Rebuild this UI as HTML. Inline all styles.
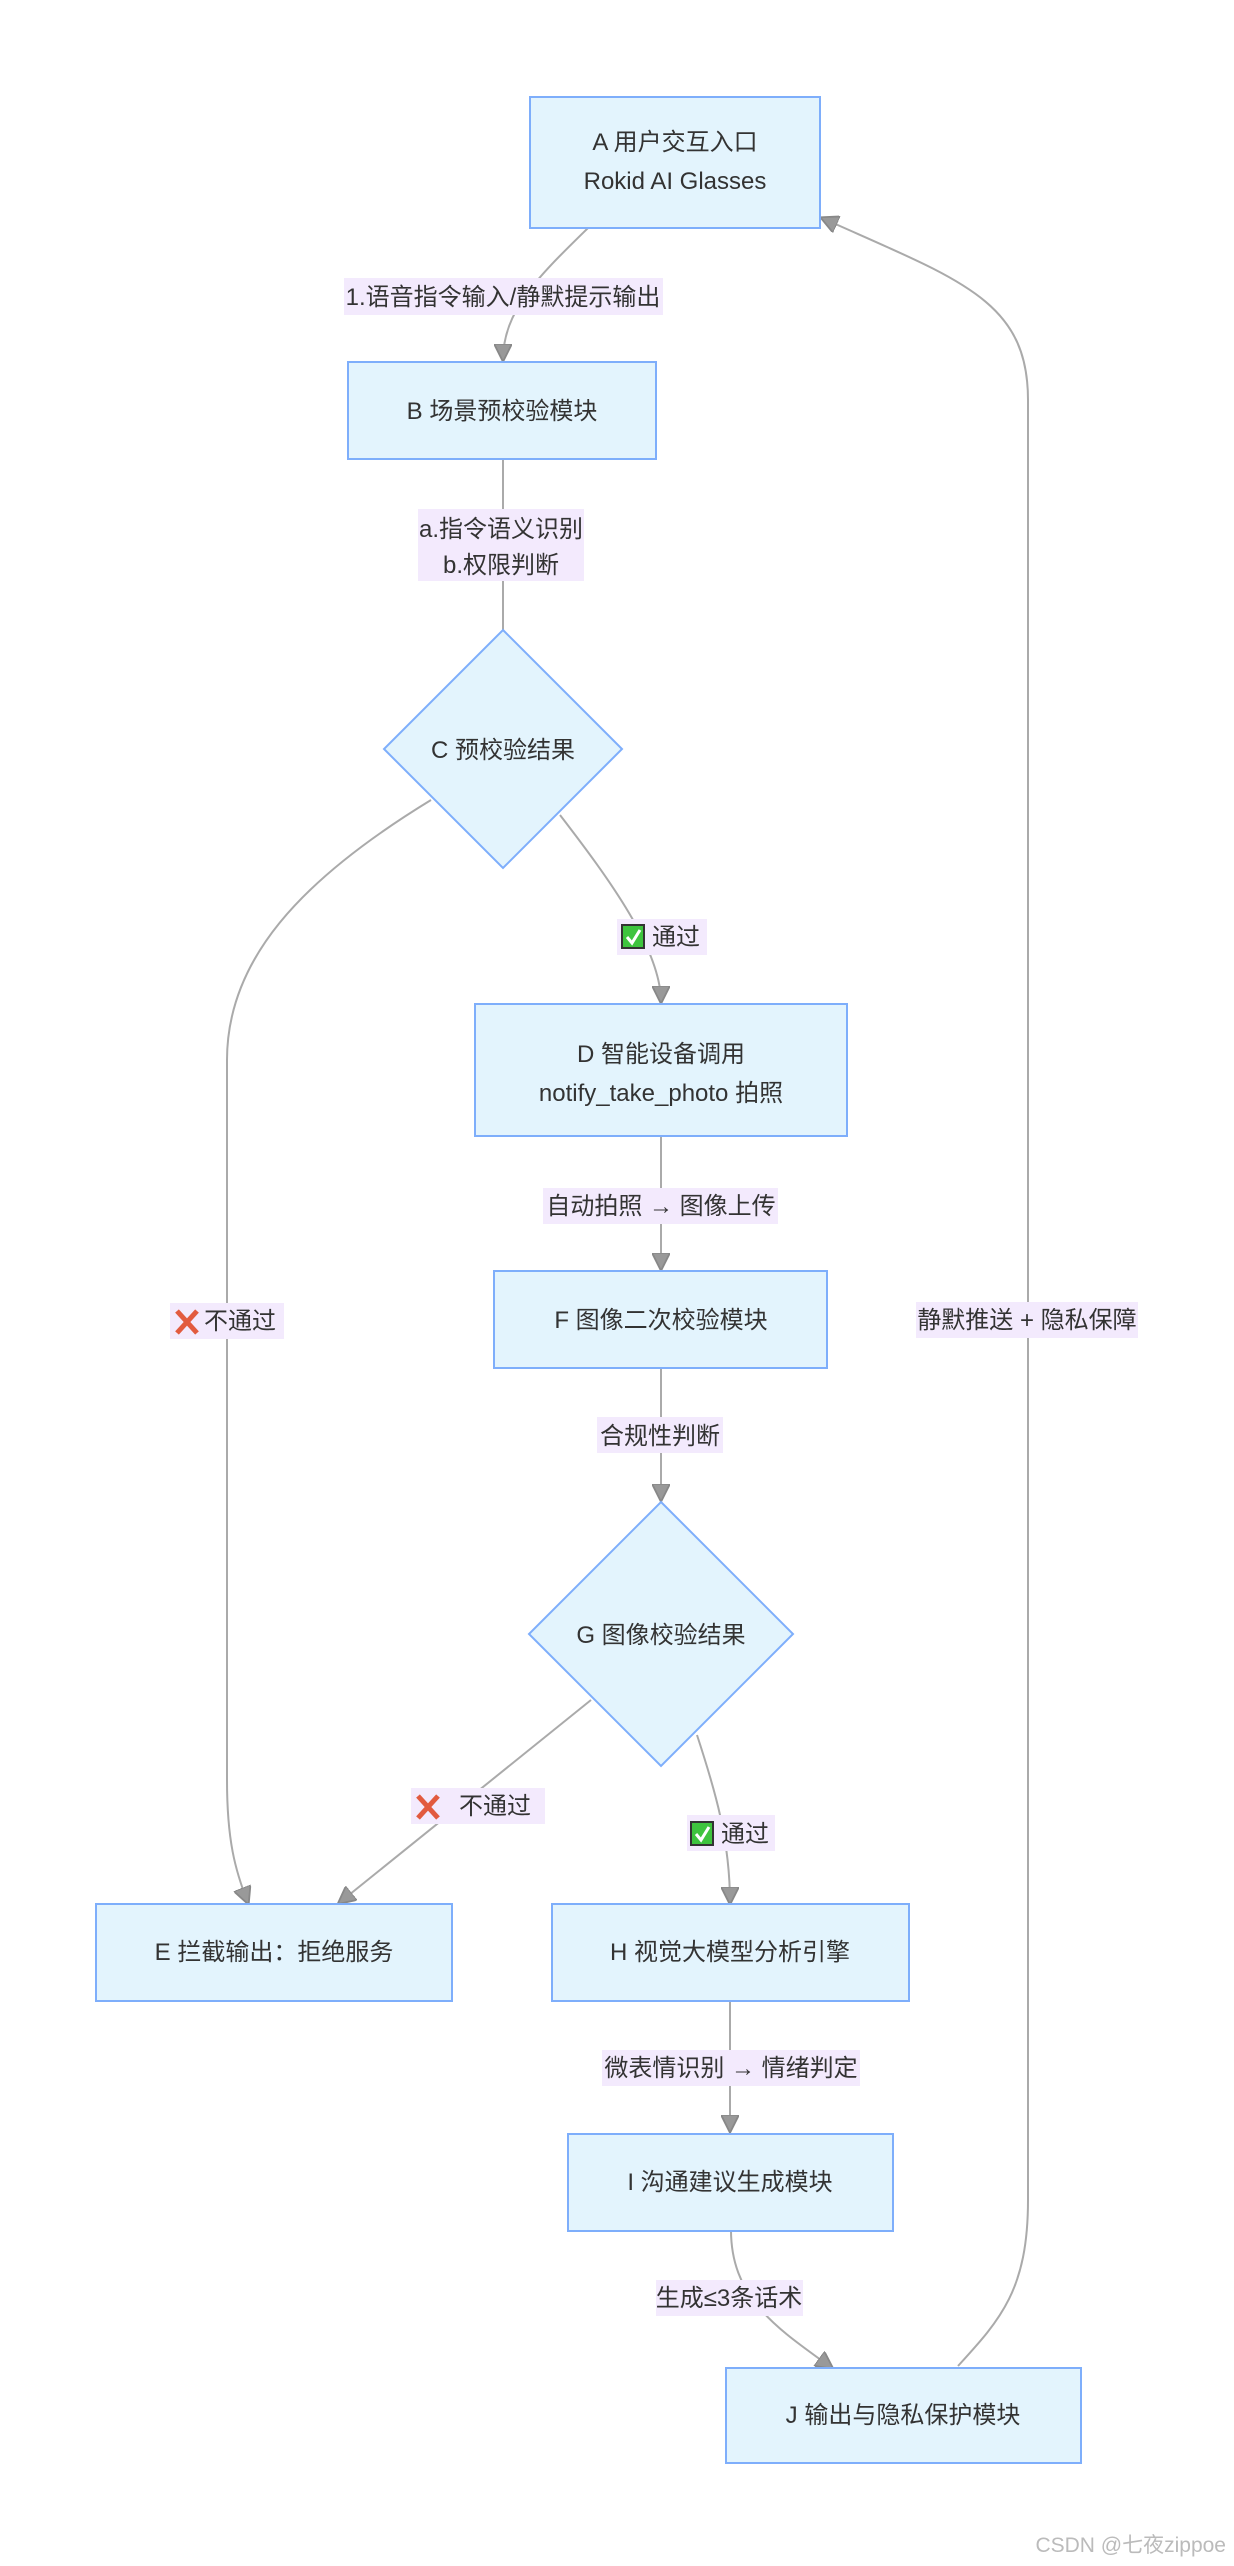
<!DOCTYPE html>
<html><head><meta charset="utf-8"><style>
body{margin:0;background:#fff;}
svg text{font-family:"Liberation Sans","Noto Sans CJK SC",sans-serif;font-size:24px;fill:#333;}
</style></head><body>
<svg width="1234" height="2561" viewBox="0 0 1234 2561" xmlns="http://www.w3.org/2000/svg">
<defs><marker id="ar" viewBox="0 0 10 10" refX="9" refY="5" markerWidth="9" markerHeight="9" orient="auto"><path d="M0,0L10,5L0,10z" fill="#999" stroke="#888"/></marker></defs>
<g fill="none" stroke="#aaa" stroke-width="2">
<path d="M588,228 C540,275 503,310 503,360" marker-end="url(#ar)"/>
<path d="M503,459 L503,747" marker-end="url(#ar)"/>
<path d="M431,800 C300,880 227,960 227,1060 L227,1780 C227,1840 235,1870 248,1903" marker-end="url(#ar)"/>
<path d="M560,815 C610,880 661,950 661,1002" marker-end="url(#ar)"/>
<path d="M661,1136 L661,1269" marker-end="url(#ar)"/>
<path d="M661,1368 L661,1500" marker-end="url(#ar)"/>
<path d="M591,1700 L339,1903" marker-end="url(#ar)"/>
<path d="M697,1735 C715,1790 730,1840 730,1903" marker-end="url(#ar)"/>
<path d="M730,1998 L730,2131" marker-end="url(#ar)"/>
<path d="M731,2230 C731,2300 780,2330 832,2368" marker-end="url(#ar)"/>
<path d="M958,2366 C1000,2320 1028,2290 1028,2200 L1028,400 C1028,300 960,280 822,218" marker-end="url(#ar)"/>
</g>
<g fill="#e3f4fd" stroke="#7eaefb" stroke-width="2">
<rect x="530" y="97" width="290" height="131"/>
<rect x="348" y="362" width="308" height="97"/>
<polygon points="503,630 622,749 503,868 384,749"/>
<rect x="475" y="1004" width="372" height="132"/>
<rect x="494" y="1271" width="333" height="97"/>
<polygon points="661,1502 793,1634 661,1766 529,1634"/>
<rect x="96" y="1904" width="356" height="97"/>
<rect x="552" y="1904" width="357" height="97"/>
<rect x="568" y="2134" width="325" height="97"/>
<rect x="726" y="2368" width="355" height="95"/>
</g>
<g fill="#f3eafd">
<rect x="344" y="278" width="319" height="37"/>
<rect x="418" y="509" width="166" height="72"/>
<rect x="617" y="919" width="90" height="36"/>
<rect x="170" y="1303" width="114" height="36"/>
<rect x="543" y="1188" width="235" height="36"/>
<rect x="916" y="1302" width="222" height="36"/>
<rect x="597" y="1417" width="126" height="36"/>
<rect x="411" y="1788" width="134" height="36"/>
<rect x="687" y="1815" width="88" height="36"/>
<rect x="602" y="2050" width="258" height="36"/>
<rect x="656" y="2280" width="147" height="36"/>
</g>
<g text-anchor="middle">
<text x="675" y="150">A 用户交互入口</text>
<text x="675" y="189">Rokid AI Glasses</text>
<text x="503" y="305">1.语音指令输入/静默提示输出</text>
<text x="502" y="419">B 场景预校验模块</text>
<text x="501" y="537">a.指令语义识别</text>
<text x="501" y="573">b.权限判断</text>
<text x="503" y="758">C 预校验结果</text>
<text x="676" y="945">通过</text>
<text x="661" y="1062">D 智能设备调用</text>
<text x="661" y="1101">notify_take_photo 拍照</text>
<text x="661" y="1214">自动拍照 → 图像上传</text>
<text x="661" y="1328">F 图像二次校验模块</text>
<text x="240" y="1329">不通过</text>
<text x="1027" y="1328">静默推送 + 隐私保障</text>
<text x="660" y="1444">合规性判断</text>
<text x="661" y="1643">G 图像校验结果</text>
<text x="495" y="1814">不通过</text>
<text x="745" y="1842">通过</text>
<text x="274" y="1960">E 拦截输出：拒绝服务</text>
<text x="730" y="1960">H 视觉大模型分析引擎</text>
<text x="731" y="2076">微表情识别 → 情绪判定</text>
<text x="730" y="2190">I 沟通建议生成模块</text>
<text x="729" y="2306">生成≤3条话术</text>
<text x="903" y="2423">J 输出与隐私保护模块</text>
</g>
<g>
<rect x="622" y="925" width="22" height="23" fill="#3ec43e" stroke="#333" stroke-width="2"/>
<path d="M627,937 L632,943 L640,930" stroke="#fff" stroke-width="3" fill="none"/>
<rect x="691" y="1822" width="22" height="23" fill="#3ec43e" stroke="#333" stroke-width="2"/>
<path d="M696,1834 L701,1840 L709,1827" stroke="#fff" stroke-width="3" fill="none"/>
<path d="M177,1311 L197,1333 M197,1311 L177,1333" stroke="#e25b3f" stroke-width="5"/>
<path d="M418,1796 L438,1818 M438,1796 L418,1818" stroke="#e25b3f" stroke-width="5"/>
</g>
<text x="1226" y="2552" text-anchor="end" style="font-size:21px;fill:#bbb">CSDN @七夜zippoe</text>
</svg>
</body></html>
